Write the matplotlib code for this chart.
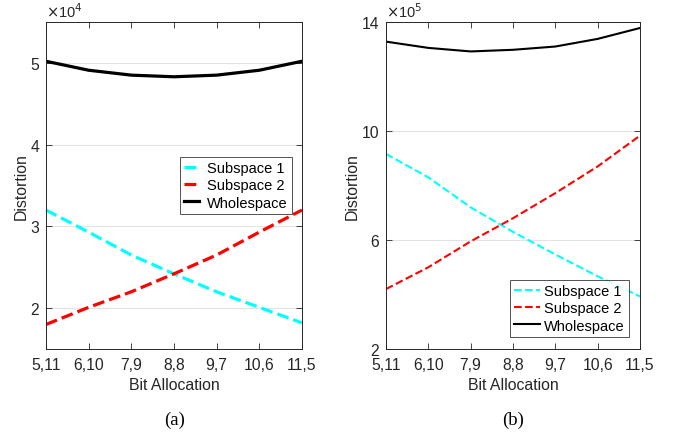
import numpy as np
import matplotlib.pyplot as plt

plt.rcParams['font.family'] = ['Liberation Sans', 'DejaVu Sans']

# data
alloc = ["5,11", "6,10", "7,9", "8,8", "9,7", "10,6", "11,5"]

# (a) values in units of 1e4
a_sub1 = [3.20, 2.93, 2.65, 2.42, 2.20, 2.01, 1.82]
a_sub2 = [1.80, 2.01, 2.20, 2.42, 2.65, 2.93, 3.20]
a_whole = [5.02, 4.91, 4.85, 4.83, 4.85, 4.91, 5.02]

# (b) values in units of 1e5
b_sub1 = [9.16, 8.30, 7.20, 6.30, 5.47, 4.67, 3.93]
b_sub2 = [4.20, 5.00, 5.95, 6.80, 7.72, 8.70, 9.83]
b_whole = [13.28, 13.05, 12.92, 12.98, 13.10, 13.38, 13.78]


def style_axes(ax, ylim, yticks, exp):
    x = np.arange(len(alloc))
    ax.set_xlim(0, len(alloc) - 1)
    ax.set_xticks(x)
    ax.set_xticklabels(alloc)
    ax.set_ylim(*ylim)
    ax.set_yticks(yticks)
    ax.tick_params(direction="in", top=True, right=True, labelsize=11.3,
                   colors="#262626", length=4, width=0.6)
    ax.tick_params(axis="x", pad=6)
    ax.tick_params(axis="y", pad=5)
    ax.yaxis.grid(True, color="#e3e3e3", linewidth=0.8)
    ax.set_axisbelow(True)
    for s in ax.spines.values():
        s.set_color("#262626")
        s.set_linewidth(0.7)
    ax.set_xlabel("Bit Allocation", fontsize=11.4, color="#262626", labelpad=3)
    ax.set_ylabel("Distortion", fontsize=11.4, color="#262626", labelpad=1)
    ax.text(0, 1.005, r"$\times$10$^{%d}$" % exp, transform=ax.transAxes,
            fontsize=10.5, color="#262626", ha="left", va="bottom")


fig = plt.figure(figsize=(6.78, 4.39), dpi=100)
ax1 = fig.add_axes([0.0678, 0.2027, 0.3776, 0.7449])
ax2 = fig.add_axes([0.5693, 0.2027, 0.3746, 0.7449])

x = np.arange(len(alloc))

ax1.plot(x, a_sub1, "--", color="cyan", lw=2.3, label="Subspace 1")
ax1.plot(x, a_sub2, "--", color="red", lw=2.3, label="Subspace 2")
ax1.plot(x, a_whole, "-", color="black", lw=2.3, label="Wholespace")
style_axes(ax1, (1.5, 5.5), [2, 3, 4, 5], 4)
leg1 = ax1.legend(loc="upper left", bbox_to_anchor=(0.523, 0.588), fontsize=10.5,
                  frameon=True, fancybox=False, edgecolor="#262626",
                  handlelength=1.0, handletextpad=0.55, borderpad=0.3,
                  labelspacing=0.22, borderaxespad=0)
leg1.get_frame().set_linewidth(0.7)

ax2.plot(x, b_sub1, "--", color="cyan", lw=1.5, label="Subspace 1")
ax2.plot(x, b_sub2, "--", color="red", lw=1.5, label="Subspace 2")
ax2.plot(x, b_whole, "-", color="black", lw=1.5, label="Wholespace")
style_axes(ax2, (2, 14), [2, 6, 10, 14], 5)
leg2 = ax2.legend(loc="lower right", bbox_to_anchor=(0.955, 0.037), fontsize=10.5,
                  frameon=True, fancybox=False, edgecolor="#262626",
                  handlelength=1.75, handletextpad=0.25, borderpad=0.3,
                  labelspacing=0.22, borderaxespad=0)
leg2.get_frame().set_linewidth(0.7)

fig.text(0.257, 0.043, "(a)", fontsize=13.5, family="Liberation Serif",
         ha="center", va="center")
fig.text(0.756, 0.043, "(b)", fontsize=13.5, family="Liberation Serif",
         ha="center", va="center")

fig.savefig("out.png", dpi=100)
